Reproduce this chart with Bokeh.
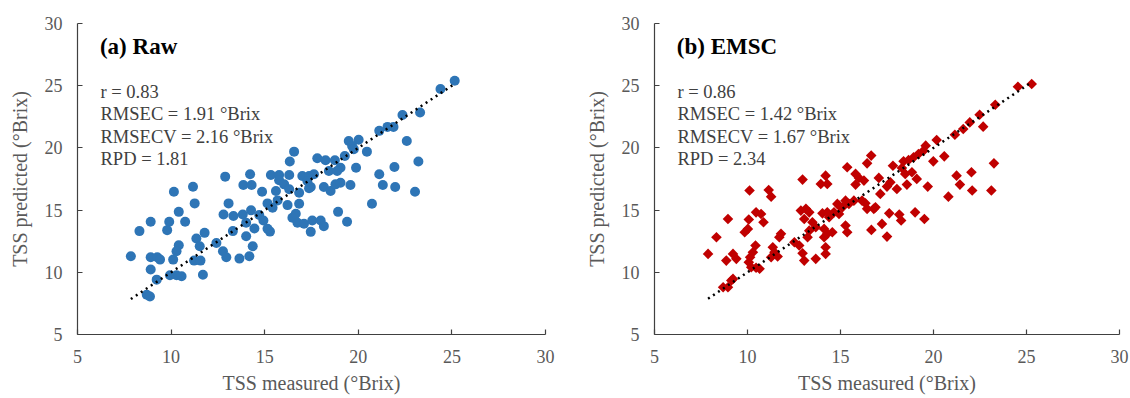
from bokeh.plotting import figure
from bokeh.layouts import row
from bokeh.models import Range1d, Label, FixedTicker
from bokeh.embed import file_html
from bokeh.resources import INLINE
import math

ticks = [5, 10, 15, 20, 25, 30]
panel_titles = ["(a) Raw", "(b) EMSC"]
r_values = [0.83, 0.86]
rmsec = [1.91, 1.42]
rmsecv = [2.16, 1.67]
rpd = [1.81, 2.34]
x_title = "TSS measured (°Brix)"
y_title = "TSS predicted (°Brix)"

raw_measured = [
    12.89, 14.22, 13.86, 14.30, 11.17, 10.15, 11.26, 13.07, 10.41,
    12.80, 13.33, 13.83, 14.27, 14.71, 14.93,
    8.91, 9.90, 10.75, 9.79, 8.31, 13.30, 14.01, 14.45, 14.01,
    11.79, 11.35, 11.53, 12.42, 14.36, 10.41, 10.29, 12.77, 12.95, 13.65, 14.18,
    7.85, 8.91, 9.26, 9.41, 10.11, 11.23, 11.57, 8.91, 9.23, 9.94, 10.29, 10.56, 11.70, 8.70, 8.87,
    15.28, 15.15, 14.86, 15.33,
    25.15, 24.39, 22.36, 23.30, 21.12, 21.56, 21.88, 22.59, 19.49, 20.02, 19.67, 19.76, 20.46, 19.28,
    16.57, 16.34, 17.81, 18.25, 18.75, 19.05, 18.43, 18.87, 19.88, 23.21, 21.93, 21.12, 21.31, 21.97,
    23.03, 20.73,
    15.77, 16.31, 15.77, 16.04, 17.01, 17.37, 17.63, 17.28, 17.46, 18.16, 18.52, 18.78, 19.05, 19.58,
    15.60, 16.31, 16.84, 17.37,
    15.69, 15.42, 16.22, 16.84,
    16.48, 16.66, 16.75, 17.10, 17.54, 17.99, 18.16, 17.46, 18.92, 19.40, 15.15,
]
raw_predicted = [
    17.69, 17.88, 17.02, 17.02, 16.88, 16.48, 15.54, 15.54, 14.86,
    14.65, 14.52, 14.65, 14.98, 14.60, 14.17,
    14.06, 14.06, 14.06, 13.39, 13.31, 13.31, 13.98, 13.52, 12.90,
    13.17, 12.72, 12.10, 12.36, 12.10, 12.18, 11.69, 11.69, 11.21, 11.10, 11.29,
    11.29, 11.21, 11.21, 11.02, 11.02, 10.94, 10.94, 10.22, 9.41, 9.76, 9.76, 9.68, 9.81, 8.20, 8.06,
    13.27, 15.54, 16.48, 17.82,
    25.40, 24.73, 22.64, 22.85, 21.37, 21.69, 21.69, 20.56, 20.56, 20.65, 20.16, 19.90, 19.70, 19.35,
    19.70, 18.90, 19.17, 19.01, 19.01, 18.41, 18.15, 18.15, 18.41, 18.90, 18.47, 17.88, 17.02, 16.85,
    16.48, 15.51,
    17.82, 17.82, 17.40, 17.07, 17.74, 17.74, 17.88, 17.34, 16.85, 16.85, 16.53, 17.07, 17.20, 17.02,
    16.53, 16.67, 16.40, 16.75,
    15.78, 15.19, 15.40, 15.51,
    14.38, 14.70, 13.98, 13.90, 14.17, 14.17, 13.71, 13.25, 14.86, 14.06, 13.50,
]

emsc_measured = [
    12.96, 14.20, 13.94, 14.29, 10.11, 11.14, 11.27, 8.95, 10.07, 10.46, 10.73, 10.86,
    12.87, 13.14, 13.32, 13.05, 14.03, 14.29, 14.65, 14.92,
    13.49, 13.67, 13.32, 13.23, 14.12, 14.29, 14.56, 14.12,
    9.85, 10.02, 8.33, 11.80, 11.71, 12.52, 7.88, 8.86, 9.22, 9.40,
    10.43, 10.29, 10.14, 10.07, 10.20, 10.46, 10.65,
    11.36, 11.45, 11.27, 11.62, 12.78, 12.96, 13.05, 13.67, 14.20, 14.20,
    8.69, 8.95, 9.13, 9.22,
    25.28, 24.54, 23.32, 22.48, 21.95, 22.67, 21.60, 21.15, 20.17, 19.58, 19.46,
    19.19, 18.93, 18.66, 18.39, 19.99, 20.58, 16.65, 16.43, 17.82, 15.36,
    15.81, 15.99, 16.26, 17.06, 17.50, 18.30, 18.48, 18.84, 18.57, 19.10, 19.69,
    21.24, 21.42, 22.04, 22.08, 23.25, 23.11, 20.80, 19.01, 19.51, 18.16, 18.26,
    17.62, 17.23, 16.66, 17.50, 16.43, 16.79, 16.88, 16.16, 16.34,
    15.27, 15.45, 15.72, 15.10, 14.83, 14.92, 14.39, 15.27, 15.36,
    17.14, 17.68, 18.03, 15.81,
]
emsc_predicted = [
    17.45, 17.77, 17.10, 17.10, 16.57, 16.62, 16.08, 14.29, 14.24, 14.82, 14.69, 14.02,
    14.96, 15.10, 14.82, 14.29, 14.74, 14.82, 14.82, 15.36,
    14.02, 13.62, 13.35, 12.82, 13.49, 13.09, 13.22, 12.82,
    13.22, 13.49, 12.82, 13.09, 12.82, 12.41, 11.48, 10.94, 11.48, 11.08,
    12.15, 11.61, 11.21, 10.81, 10.41, 10.36, 10.28,
    12.01, 11.61, 11.21, 11.27, 12.15, 11.53, 10.94, 11.08, 12.01, 11.48,
    8.80, 8.80, 9.34, 9.47,
    25.14, 24.92, 23.47, 22.67, 22.05, 21.71, 21.52, 21.06, 20.64, 20.18, 19.78,
    19.51, 19.24, 19.03, 18.92, 18.92, 19.32, 19.38, 18.76, 18.57, 18.44,
    17.91, 17.59, 17.37, 17.59, 16.89, 18.39, 17.91, 18.04, 17.05, 17.51, 16.89,
    17.77, 17.05, 18.04, 16.57, 18.76, 16.57, 16.08, 14.82, 14.29, 14.64, 14.16,
    14.74, 13.89, 13.41, 12.87, 15.10, 15.10, 15.22, 15.76, 15.55,
    15.76, 15.50, 15.76, 15.22, 15.50, 14.69, 14.42, 13.76, 13.22,
    16.30, 17.23, 16.70, 17.05,
]

FONT = "Liberation Serif"
AXIS_COLOR = "#404040"
LABEL_COLOR = "#595959"


def make_panel(xs, ys, idx, marker, color, size, angle, border_left, border_right):
    p = figure(width=border_left + 468 + border_right, height=23 + 311 + 62,
               x_range=Range1d(5, 30), y_range=Range1d(5, 30),
               output_backend="svg", toolbar_location=None,
               min_border_left=border_left, min_border_right=border_right,
               min_border_top=23, min_border_bottom=62,
               x_axis_label=x_title, y_axis_label=y_title)
    p.outline_line_color = None
    p.xgrid.visible = False
    p.ygrid.visible = False
    p.background_fill_color = "white"
    p.border_fill_color = "white"
    for ax in (p.xaxis[0], p.yaxis[0]):
        ax.ticker = FixedTicker(ticks=ticks)
        ax.major_tick_in = 5
        ax.major_tick_out = 0
        ax.minor_tick_line_color = None
        ax.axis_line_color = AXIS_COLOR
        ax.axis_line_width = 1.2
        ax.major_tick_line_color = AXIS_COLOR
        ax.major_tick_line_width = 1.2
        ax.major_label_text_font = FONT
        ax.major_label_text_font_size = "18px"
        ax.major_label_text_color = LABEL_COLOR
        ax.axis_label_text_font = FONT
        ax.axis_label_text_font_size = "20px"
        ax.axis_label_text_font_style = "normal"
        ax.axis_label_text_color = LABEL_COLOR
    p.xaxis[0].major_label_standoff = 15
    p.xaxis[0].axis_label_standoff = 6
    p.yaxis[0].major_label_standoff = 15
    p.yaxis[0].axis_label_standoff = 11

    p.scatter(xs, ys, marker=marker, size=size, angle=angle,
              fill_color=color, line_color=None)
    lo, hi = min(xs), max(xs)
    p.line([lo, hi], [lo, hi], line_color="black", line_width=2.5,
           line_dash="2 4")

    p.add_layout(Label(x=6.2, y=28.16, text=panel_titles[idx],
                       text_font=FONT, text_font_size="23px",
                       text_font_style="bold", text_color="black",
                       text_baseline="alphabetic"))
    lines = [
        f"r = {r_values[idx]:.2f}",
        f"RMSEC = {rmsec[idx]:.2f} °Brix",
        f"RMSECV = {rmsecv[idx]:.2f} °Brix",
        f"RPD = {rpd[idx]:.2f}",
    ]
    ys_text = [24.52, 22.71, 20.90, 19.14]
    for t, yy in zip(lines, ys_text):
        p.add_layout(Label(x=6.23, y=yy, text=t, text_font=FONT,
                           text_font_size="18.5px", text_color="#404040",
                           text_baseline="alphabetic"))
    return p


p1 = make_panel(raw_measured, raw_predicted, 0, "circle", "#2E75B6", 10, 0, 77, 37)
p2 = make_panel(emsc_measured, emsc_predicted, 1, "square", "#C00000", 7.5,
                math.pi / 4, 69, 11)

layout = row(p1, p2)
open("out.html", "w").write(file_html(layout, INLINE))
